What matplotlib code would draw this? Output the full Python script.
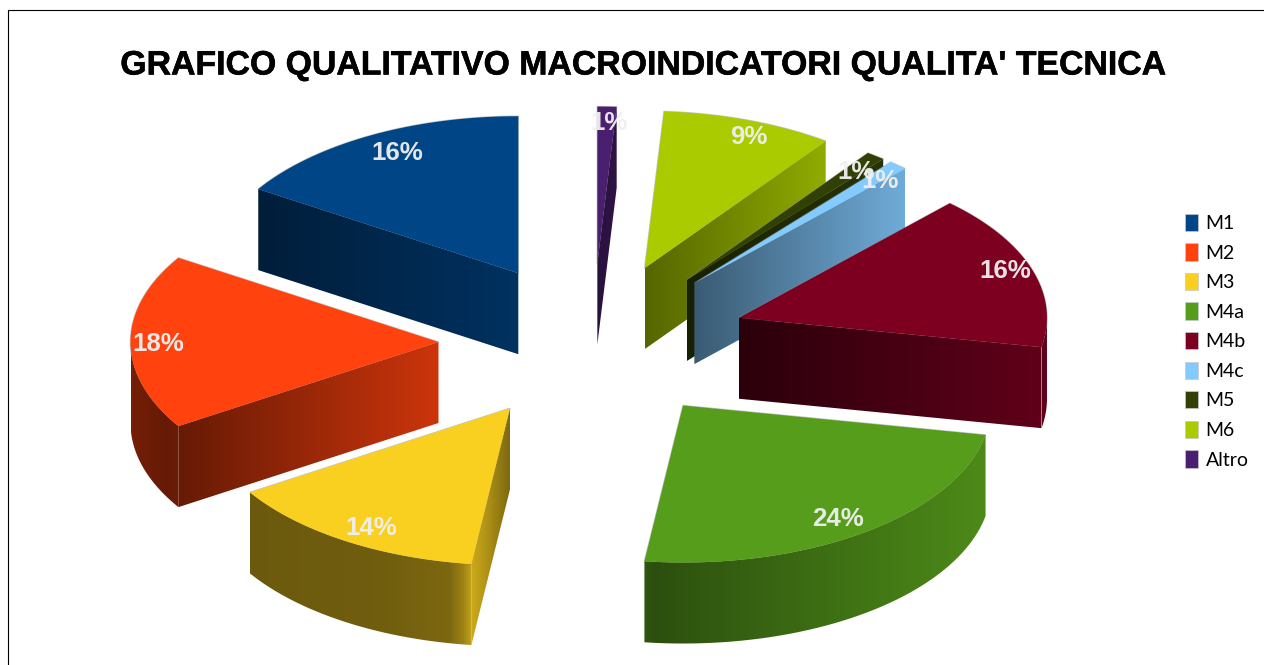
import numpy as np
import matplotlib
matplotlib.use("Agg")
import matplotlib.pyplot as plt
import matplotlib.patheffects as pe
from matplotlib.patches import Polygon, Patch

title = "GRAFICO QUALITATIVO MACROINDICATORI QUALITA' TECNICA"
labels = ["M1", "M2", "M3", "M4a", "M4b", "M4c", "M5", "M6", "Altro"]
values = [16, 18, 14, 24, 16, 1, 1, 9, 1]
colors = ["#004586", "#FF420E", "#FAD020", "#579D1C", "#7E0021",
          "#83CAFF", "#314004", "#AACB00", "#4B1F6F"]

# projection / layout (pixels)
CX, CY, RX, RY, DEPTH, EXPLODE = 592.5, 342, 308, 157, 81, 0.5
# label placement as a fraction of the radius, per slice
label_rx = [.815, .91, .84, .855, .91, .91, .895, 1.0, 1.2]
label_ry = [.89, .0, .887, .875, 1.0, .88, .89, .90, .91]
# wall shades: (position along wall, multiplier of the slice colour)
radial_shade = [[(0, .43), (1, .72)], [(0, .40), (1, .80)], [(0, .82), (.35, .72), (1, .50)],
                [(0, .5), (1, .9)], [(0, .34), (1, .76)], [(0, .45), (1, .85)],
                [(0, .5), (1, .8)], [(0, .5), (1, .85)], [(0, .55), (1, .62)]]
arc_shade = [[(0, .43), (1, .72)], [(0, .46), (.72, .40), (1, .42)],
             [(0, .43), (.6, .45), (.9, .50), (.96, .62), (1, .78)],
             [(0, .55), (.03, .50), (.15, .56), (1, .88)], [(0, .76), (1, .76)],
             [(0, .45), (1, .85)], [(0, .5), (1, .8)], [(0, .5), (1, .85)], [(0, .55), (1, .62)]]

fig = plt.figure(figsize=(12.64, 6.65), dpi=100, facecolor="white")
ax = fig.add_axes([0, 0, 1, 1])
ax.axis("off")


def pt(tip, deg):
    t = np.radians(deg)
    return tip + np.column_stack([RX * np.cos(t), -RY * np.sin(t)])


def wall(top_pts, rgb, shade, z):
    """Extrude a top-edge polyline downward and paint it with a horizontal gradient."""
    bottom = top_pts[::-1] + [0, DEPTH]
    verts = np.vstack([top_pts, bottom])
    x0, x1 = verts[:, 0].min(), verts[:, 0].max()
    if x1 - x0 < .5:
        return
    y0, y1 = verts[:, 1].min(), verts[:, 1].max()
    fr, sv = zip(*shade)
    f = np.interp(np.linspace(0, 1, 256), fr, sv)[None, :, None]
    img = np.clip(f * np.array(rgb)[None, None, :], 0, 1)
    im = ax.imshow(img, extent=[x0, x1, y1, y0], aspect="auto",
                   interpolation="bilinear", zorder=z)
    clip = Polygon(verts, closed=True, transform=ax.transData)
    im.set_clip_path(clip)


total = sum(values)
theta = 90 + 360 * np.cumsum([0] + values) / total
mids = (theta[:-1] + theta[1:]) / 2
order = np.argsort(-np.sin(np.radians(mids)))

for rank, i in enumerate(order):
    t1, t2, mid = theta[i], theta[i + 1], mids[i]
    rgb = matplotlib.colors.to_rgb(colors[i])
    tip = np.array([CX + EXPLODE * RX * np.cos(np.radians(mid)),
                    CY - EXPLODE * RY * np.sin(np.radians(mid))])
    z = 2 + rank * 3
    arc = pt(tip, np.linspace(t1, t2, 160))
    top = np.vstack([tip, arc])
    ax.add_patch(Polygon(top, closed=True, fc="none", ec="#8c8c8c", lw=1.0, alpha=.5, zorder=z))
    # radial faces that look towards the viewer
    if np.sin(np.radians(t1 - 90)) < -1e-6:
        wall(np.array([tip, arc[0]]), rgb, radial_shade[i], z)
    if np.sin(np.radians(t2 + 90)) < -1e-6:
        wall(np.array([arc[-1], tip]), rgb, radial_shade[i], z)
    # visible part of the outer rim
    for k in (0, 1):
        lo, hi = max(t1, 180 + 360 * k), min(t2, 360 + 360 * k)
        if hi > lo:
            wall(pt(tip, np.linspace(lo, hi, 100)), rgb, arc_shade[i], z + 1)
    ax.add_patch(Polygon(top, closed=True, fc=colors[i], ec="none", zorder=z + 2))

    rad = np.radians(mid)
    ry = label_ry[i]
    ax.text(tip[0] + label_rx[i] * RX * np.cos(rad),
            tip[1] - ry * RY * np.sin(rad) + 2,
            f"{values[i]}%", color="#f0f0f0", ha="center", va="center", alpha=.95,
            family="Liberation Sans", weight="bold", fontsize=18.6, zorder=60)

ax.set_xlim(0, 1264)
ax.set_ylim(665, 0)

# chart frame, running off the right and bottom edges
ax.plot([8, 8, 1270], [670, 10, 10], color="black", lw=.8, zorder=70,
        solid_joinstyle="miter", clip_on=False)

ax.text(642, 66, title, ha="center", va="center", family="Liberation Sans",
        weight="bold", fontsize=24.35, color="black", zorder=70,
        path_effects=[pe.withStroke(linewidth=.4, foreground="black")])

handles = [Patch(fc=c, ec="#c8c8c8", lw=.5, label=l) for c, l in zip(colors, labels)]
ax.legend(handles=handles, loc="upper left", bbox_to_anchor=(1179 / 1264, 1 - 208 / 665),
          frameon=False, handlelength=.7, handleheight=1.0, handletextpad=.36,
          labelspacing=.575, borderpad=.3, borderaxespad=0,
          prop={"family": "Lato", "size": 14})

fig.savefig("out.png", dpi=100)
